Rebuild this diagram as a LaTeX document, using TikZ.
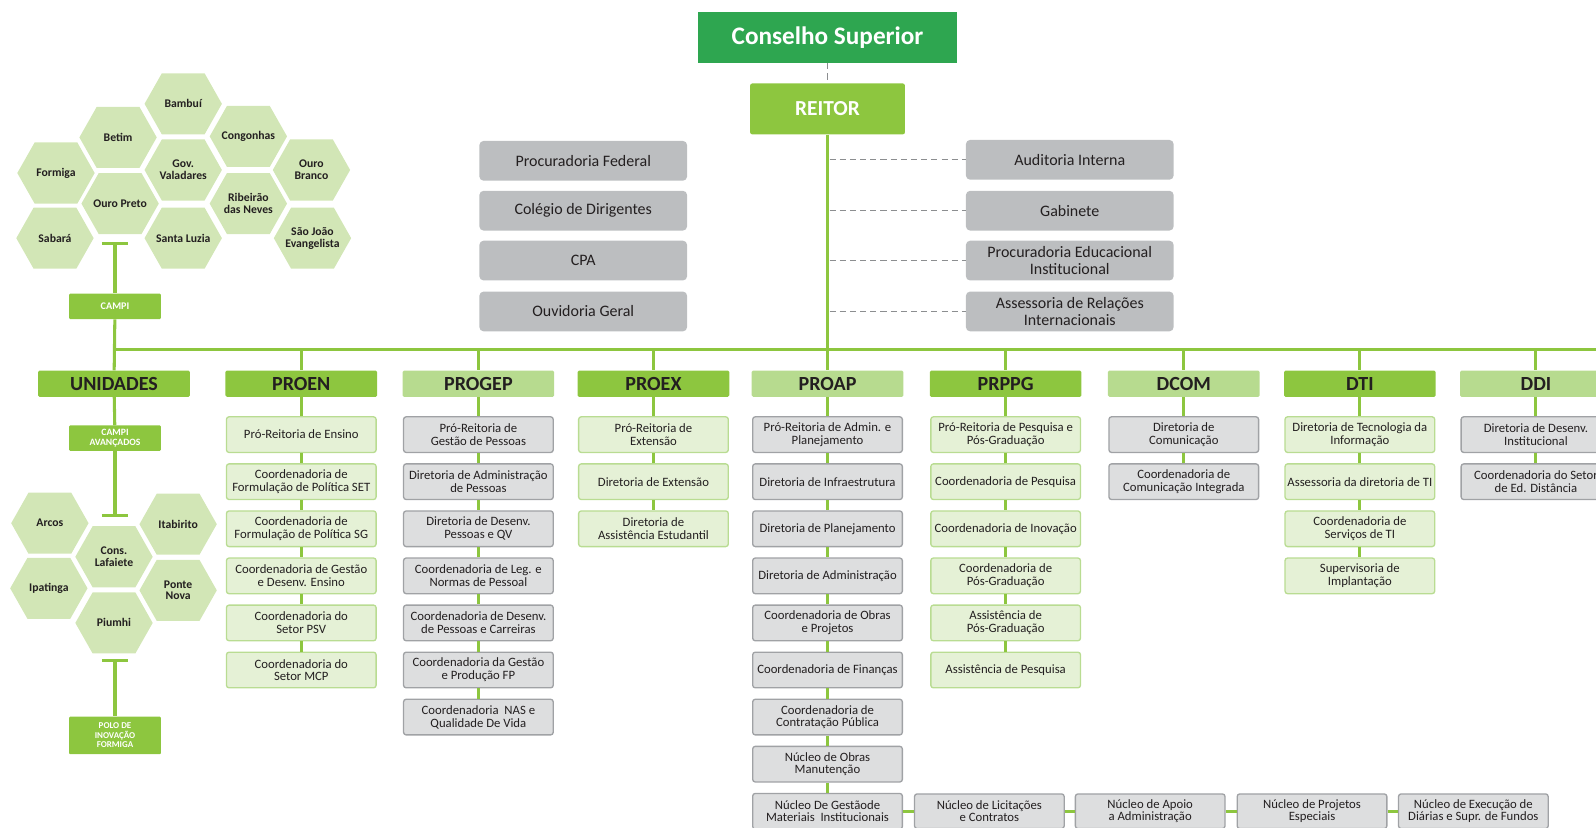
\documentclass[tikz,border=0pt]{standalone}
\usepackage{fontspec}
\setmainfont{Carlito}
\definecolor{csup}{HTML}{2EA650}
\definecolor{gmed}{HTML}{8DC63F}
\definecolor{glight}{HTML}{B7DB8F}
\definecolor{gpale}{HTML}{E5F1D6}
\definecolor{gborder}{HTML}{B9DC92}
\definecolor{grayA}{HTML}{BCBEC0}
\definecolor{grayB}{HTML}{DDDEDF}
\definecolor{grayline}{HTML}{A0A2A5}
\definecolor{hexc}{HTML}{D2E6B6}
\definecolor{txt}{HTML}{231F20}
\definecolor{dashc}{HTML}{8C8E90}
\tikzset{
  gl/.style={draw=gmed, line width=3pt},
  dl/.style={draw=dashc, line width=1.2pt, dash pattern=on 6pt off 4pt},
  hdr/.style={minimum width=149pt, minimum height=26pt, inner sep=0pt, text=txt,
    font=\fontsize{19.7}{19.7}\selectfont\bfseries, rounded corners=1.5pt},
  hdrA/.style={hdr, fill=gmed},
  hdrB/.style={hdr, fill=glight},
  sub/.style={minimum width=147pt, minimum height=35pt, inner sep=0pt, align=center,
    text=txt, font=\fontsize{12.5}{12.5}\selectfont, rounded corners=2.5pt, line width=1.3pt},
  subG/.style={sub, fill=gpale, draw=gborder},
  subY/.style={sub, fill=grayB, draw=grayline},
  topbox/.style={minimum width=204pt, minimum height=39pt, inner sep=0pt, fill=grayA,
    rounded corners=4pt, align=center, text=txt, font=\fontsize{15.7}{16}\selectfont},
  smallg/.style={fill=gmed, minimum width=90pt, inner sep=0pt, align=center, text=white,
    rounded corners=1pt},
  hext/.style={align=center, text=txt, inner sep=0pt, font=\fontsize{11.5}{11.5}\selectfont\bfseries},
}
\newcommand\hexcell[4]{%
  \fill[hexc] (#2-38,#3) -- (#2-21,#3-30) -- (#2+21,#3-30) -- (#2+38,#3)
     -- (#2+21,#3+30) -- (#2-21,#3+30) -- cycle;
  \node[hext] (#1) at (#2,#3) {#4};
}
\newcommand\orgcol[4]{%
  \foreach \t [count=\i] in {#4} {
    \pgfmathsetmacro\yy{427+46.25*(\i-1)}
    \node[#3] (#1\i) at (#2,\yy) {\t};
    \ifnum\i>1 \pgfmathtruncatemacro\p{\i-1}\draw[gl] (#1\p) -- (#1\i);\fi
  }
  \draw[gl] (#10) -- (#11);
}
\begin{document}
\begin{tikzpicture}[x=1pt,y=-1pt]
\useasboundingbox (0,0) rectangle (1568,813);
\clip (0,0) rectangle (1568,813);

% top
\node[fill=csup, minimum width=254pt, minimum height=50pt, text=white,
  font=\fontsize{24.8}{24.8}\selectfont\bfseries] (cons) at (813,37) {Conselho Superior};
\node[fill=gmed, minimum width=152pt, minimum height=50pt, text=white, rounded corners=2pt,
  font=\fontsize{21}{21}\selectfont\bfseries] (reitor) at (813,107) {REITOR};
\draw[dl] (cons) -- (reitor);

\node[topbox] (procfed) at (573,158) {Procuradoria Federal};
\node[topbox] (colegio) at (573,207) {Colégio de Dirigentes};
\node[topbox] (cpa) at (573,256) {CPA};
\node[topbox] (ouvid) at (573,306) {Ouvidoria Geral};
\node[topbox] (audit) at (1051,157) {Auditoria Interna};
\node[topbox] (gab) at (1051,207) {Gabinete};
\node[topbox] (pei) at (1051,256) {Procuradoria Educacional\\Institucional};
\node[topbox] (ari) at (1051,306) {Assessoria de Relações\\Internacionais};
\coordinate (t1) at (815,157);
\coordinate (t2) at (815,207);
\coordinate (t3) at (815,256);
\coordinate (t4) at (815,306);
\draw[dl] (t1) -- (audit);
\draw[dl] (t2) -- (gab);
\draw[dl] (t3) -- (pei);
\draw[dl] (t4) -- (ari);

% headers
\node[hdrA] (uni0) at (112,377) {UNIDADES};
\node[hdrA] (proen0) at (296,377) {PROEN};
\node[hdrB] (progep0) at (470,377) {PROGEP};
\node[hdrA] (proex0) at (642,377) {PROEX};
\node[hdrB] (proap0) at (813,377) {PROAP};
\node[hdrA] (prppg0) at (988,377) {PRPPG};
\node[hdrB] (dcom0) at (1163,377) {DCOM};
\node[hdrA] (dti0) at (1336,377) {DTI};
\node[hdrB] (ddi0) at (1509,377) {DDI};

% bus
\coordinate (busL) at (113,343);
\coordinate (busR) at (1580,343);
\draw[gl] (busL) -- (busR);
\draw[gl] (reitor) -- (proap0);
\foreach \c/\x in {proen/296, progep/470, proex/642, prppg/988, dcom/1163, dti/1336, ddi/1509}{
  \coordinate (b\c) at (\x,343);
  \draw[gl] (b\c) -- (\c0);
}

% columns
\orgcol{proen}{296}{subG}{Pró-Reitoria de Ensino, Coordenadoria de\\Formulação de Política SET,
  Coordenadoria de\\Formulação de Política SG, Coordenadoria de Gestão\\e Desenv. Ensino,
  Coordenadoria do\\Setor PSV, Coordenadoria do\\Setor MCP}
\orgcol{progep}{470}{subY}{Pró-Reitoria de\\Gestão de Pessoas, Diretoria de Administração\\de Pessoas,
  Diretoria de Desenv.\\Pessoas e QV, Coordenadoria de Leg. e\\Normas de Pessoal,
  Coordenadoria de Desenv.\\de Pessoas e Carreiras, Coordenadoria da Gestão\\e Produção FP,
  Coordenadoria\ \ NAS e\\Qualidade De Vida}
\orgcol{proex}{642}{subG}{Pró-Reitoria de\\Extensão, Diretoria de Extensão, Diretoria de\\Assistência Estudantil}
\orgcol{proap}{813}{subY}{Pró-Reitoria de Admin. e\\Planejamento, Diretoria de Infraestrutura,
  Diretoria de Planejamento, Diretoria de Administração, Coordenadoria de Obras\\e Projetos,
  Coordenadoria de Finanças, Coordenadoria de\\Contratação Pública, Núcleo de Obras\\Manutenção,
  Núcleo De Gestãode\\Materiais\ \ Institucionais}
\orgcol{prppg}{988}{subG}{Pró-Reitoria de Pesquisa e\\Pós-Graduação, Coordenadoria de Pesquisa,
  Coordenadoria de Inovação, Coordenadoria de\\Pós-Graduação, Assistência de\\Pós-Graduação,
  Assistência de Pesquisa}
\orgcol{dcom}{1163}{subY}{Diretoria de\\Comunicação, Coordenadoria de\\Comunicação Integrada}
\orgcol{dti}{1336}{subG}{Diretoria de Tecnologia da\\Informação, Assessoria da diretoria de TI,
  Coordenadoria de\\Serviços de TI, Supervisoria de\\Implantação}
\orgcol{ddi}{1509}{subY}{Diretoria de Desenv.\\Institucional, Coordenadoria do Setor\\de Ed. Distância}

% bottom row
\node[subY, minimum height=34pt] (licit) at (972,797) {Núcleo de Licitações\\e Contratos};
\node[subY, minimum height=34pt] (apoio) at (1130,797) {Núcleo de Apoio\\a Administração};
\node[subY, minimum height=34pt] (projesp) at (1289,797) {Núcleo de Projetos\\Especiais};
\node[subY, minimum height=34pt] (exec) at (1447.5,797) {Núcleo de Execução de\\Diárias e Supr. de Fundos};
\draw[gl] (proap9) -- (licit);
\draw[gl] (licit) -- (apoio);
\draw[gl] (apoio) -- (projesp);
\draw[gl] (projesp) -- (exec);

% campi hexes
\hexcell{bambui}{180}{102}{Bambuí}
\hexcell{betim}{116}{135}{Betim}
\hexcell{congonhas}{244}{134}{Congonhas}
\hexcell{formiga}{55}{170}{Formiga}
\hexcell{govval}{180}{167}{Gov.\\Valadares}
\hexcell{ourobranco}{306}{167}{Ouro\\Branco}
\hexcell{ouropreto}{118}{200}{Ouro Preto}
\hexcell{ribeirao}{244}{200}{Ribeirão\\das Neves}
\hexcell{sabara}{54}{234}{Sabará}
\hexcell{stluzia}{180}{234}{Santa Luzia}
\hexcell{sje}{307}{234}{São João\\Evangelista}

\node[smallg, minimum height=25pt, font=\fontsize{10}{10}\selectfont\bfseries] (campi) at (113,301) {CAMPI};
\coordinate (tc) at (113,239);
\coordinate (tcL) at (100,239);
\coordinate (tcR) at (126,239);
\draw[gl] (tcL) -- (tcR);
\draw[gl] (tc) -- (campi);
\draw[gl] (campi) -- (uni0);

\node[smallg, minimum height=25pt, font=\fontsize{9.5}{10.5}\selectfont\bfseries] (campiav) at (113,430.5) {CAMPI\\AVANÇADOS};
\draw[gl] (uni0) -- (campiav);
\coordinate (tav) at (113,506);
\coordinate (tavL) at (100,506);
\coordinate (tavR) at (126,506);
\draw[gl] (tavL) -- (tavR);
\draw[gl] (campiav) -- (tav);

\hexcell{arcos}{49}{514}{Arcos}
\hexcell{itabirito}{175}{515}{Itabirito}
\hexcell{lafaiete}{112}{547}{Cons.\\Lafaiete}
\hexcell{ipatinga}{48}{578}{Ipatinga}
\hexcell{pontenova}{175}{580}{Ponte\\Nova}
\hexcell{piumhi}{112}{612}{Piumhi}

\coordinate (tp) at (113,649);
\coordinate (tpL) at (100,649);
\coordinate (tpR) at (126,649);
\draw[gl] (tpL) -- (tpR);
\node[smallg, minimum height=37pt, font=\fontsize{8.8}{9.5}\selectfont\bfseries] (polo) at (113,722.5) {POLO DE\\INOVAÇÃO\\FORMIGA};
\draw[gl] (tp) -- (polo);
\end{tikzpicture}
\end{document}
